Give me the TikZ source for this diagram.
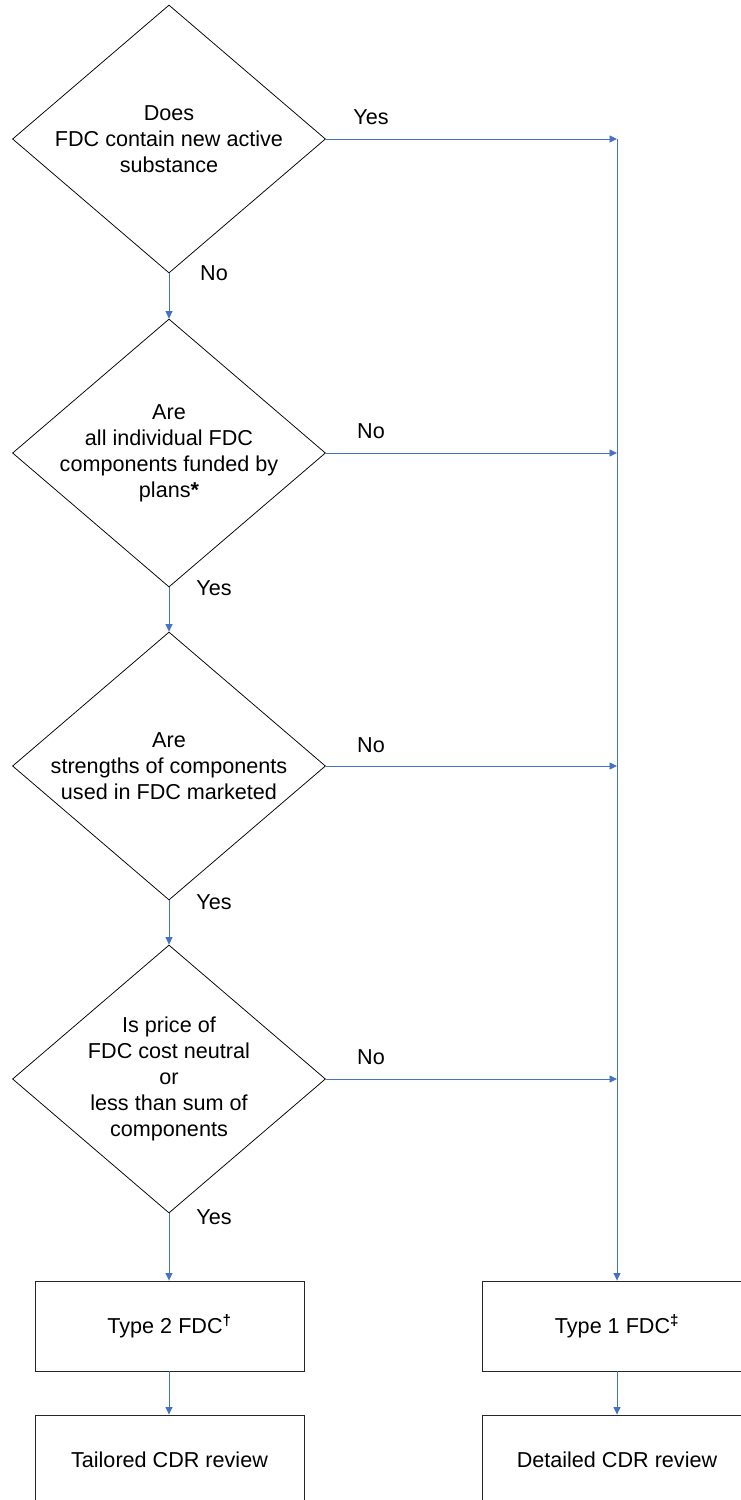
\documentclass[tikz,border=0pt]{standalone}
\usepackage{fontspec}
\setmainfont{Liberation Sans}
\usetikzlibrary{shapes.geometric,arrows.meta}
\definecolor{flowblue}{RGB}{68,114,196}
\begin{document}
\begin{tikzpicture}[x=1pt,y=-1pt,
  txt/.style={font=\fontsize{21.6}{26}\selectfont, align=center, inner sep=0pt, text=black},
  decision/.style={diamond, draw=black, line width=0.75pt, inner sep=0pt, minimum width=313pt, minimum height=268pt},
  procbox/.style={rectangle, draw=black!85, line width=0.9pt, minimum width=269pt, minimum height=90pt, inner sep=0pt, font=\fontsize{21.6}{26}\selectfont},
  arr/.style={draw=flowblue, line width=0.9pt, -{Triangle[width=7pt,length=7.5pt]}},
  plain/.style={draw=flowblue, line width=0.9pt}
]
\useasboundingbox (0,0) rectangle (741,1500);
\clip (0,0) rectangle (741,1500);

% decisions
\node[decision] (d1) at (169,139) {};
\node[txt] (t1) at (d1) {Does\\FDC contain new active\\substance};
\node[decision] (d2) at (169,453) {};
\node[txt] (t2) at (d2) {Are\\all individual FDC\\components funded by\\plans\textbf{*}};
\node[decision] (d3) at (169,766) {};
\node[txt] (t3) at (d3) {Are\\strengths of components\\used in FDC marketed};
\node[decision] (d4) at (169,1079) {};
\node[txt] (t4) at (d4) {Is price of\\FDC cost neutral\\or\\less than sum of\\components};

% boxes
\node[procbox] (b2) at (169.5,1326) {Type 2 FDC\textsuperscript{\textbf{†}}};
\node[procbox] (b1) at (617,1326) {Type 1 FDC\textsuperscript{\textbf{‡}}};
\node[procbox] (r2) at (169.5,1460) {Tailored CDR review};
\node[procbox] (r1) at (617,1460) {Detailed CDR review};

% junctions on the right trunk
\coordinate (j1) at (617,139);
\coordinate (j2) at (617,453);
\coordinate (j3) at (617,766);
\coordinate (j4) at (617,1079);

% connectors
\draw[arr] (d1.south) -- (d2.north);
\draw[arr] (d2.south) -- (d3.north);
\draw[arr] (d3.south) -- (d4.north);
\draw[arr] (d4.south) -- (b2.north -| d4.south);
\draw[arr] (b2.south -| d4.south) -- (r2.north -| d4.south);

\draw[arr] (d1.east) -- (j1);
\draw[arr] (d2.east) -- (j2);
\draw[arr] (d3.east) -- (j3);
\draw[arr] (d4.east) -- (j4);
\draw[arr] (j1) -- (b1.north);
\draw[arr] (b1.south) -- (r1.north);

% labels
\node[txt] (l1) at (371,117) {Yes};
\node[txt] (l2) at (371,431) {No};
\node[txt] (l3) at (371,745) {No};
\node[txt] (l4) at (371,1057) {No};
\node[txt] (m1) at (214,273) {No};
\node[txt] (m2) at (214,588) {Yes};
\node[txt] (m3) at (214,902) {Yes};
\node[txt] (m4) at (214,1217) {Yes};
\end{tikzpicture}
\end{document}
